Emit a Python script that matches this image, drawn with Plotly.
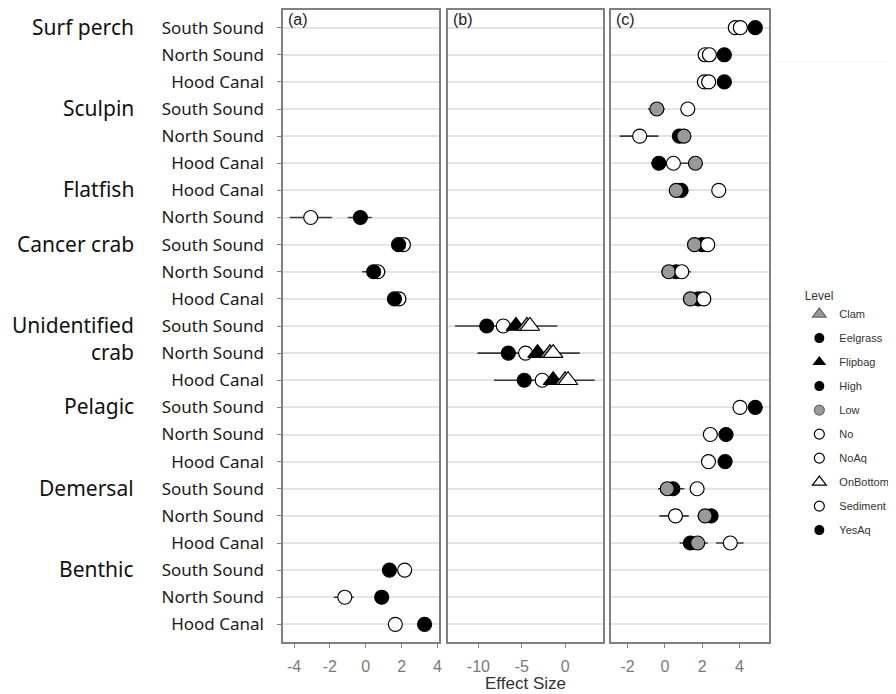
import plotly.graph_objects as go

# ---------------- data ----------------
GROUPS = ["Surf perch", "Sculpin", "Flatfish", "Cancer crab", "Unidentified", "crab",
          "Pelagic", "Demersal", "Benthic"]
GROUP_ROWS = [0, 3, 6, 8, 11, 12, 14, 17, 20]
ROW_LABELS = ["South Sound", "North Sound", "Hood Canal",
              "South Sound", "North Sound", "Hood Canal",
              "Hood Canal", "North Sound",
              "South Sound", "North Sound", "Hood Canal",
              "South Sound", "North Sound", "Hood Canal",
              "South Sound", "North Sound", "Hood Canal",
              "South Sound", "North Sound", "Hood Canal",
              "South Sound", "North Sound", "Hood Canal"]
ROWS = list(range(len(ROW_LABELS)))

# panel (a): habitat
A_ROWS = [7, 8, 9, 10, 20, 21, 22]
A_SEDIMENT = [-3.07, 2.10, 0.67, 1.85, 2.17, -1.17, 1.65]
A_EELGRASS = [-0.30, 1.83, 0.44, 1.60, 1.32, 0.89, 3.28]
A_WH_ROWS = [7, 7, 9, 21, 22]
A_WH_LO = [-4.24, -1.00, -0.20, -1.78, 1.30]
A_WH_HI = [-1.89, 0.33, 1.10, -0.67, 1.70]

# panel (b): aquaculture / gear
B_ROWS = [11, 12, 13]
B_YESAQ = [-9.04, -6.55, -4.71]
B_NOAQ = [-7.13, -4.56, -2.64]
B_FLIPBAG = [-5.67, -3.18, -1.38]
B_CLAM = [-4.40, -1.75, 0.00]
B_ONBOTTOM = [-4.06, -1.38, 0.34]
B_WH_ROWS = [11, 12, 13]
B_WH_LO = [-12.7, -10.1, -8.2]
B_WH_HI = [-0.89, 1.69, 3.41]

# panel (c): density
C_HIGH_ROWS = [0, 1, 2, 4, 5, 6, 8, 9, 10, 14, 15, 16, 17, 18, 19]
C_HIGH = [4.85, 3.19, 3.19, 0.78, -0.32, 0.87, 2.00, 0.60, 1.80, 4.85, 3.28, 3.23, 0.43, 2.48, 1.37]
C_LOW_ROWS = [3, 4, 5, 6, 8, 9, 10, 17, 18, 19]
C_LOW = [-0.43, 1.02, 1.64, 0.61, 1.59, 0.21, 1.37, 0.13, 2.16, 1.76]
C_NO_ROWS = [0, 1, 2, 3, 4, 5, 6, 8, 9, 10, 14, 15, 16, 17, 18, 19]
C_NO = [4.05, 2.39, 2.35, 1.23, -1.35, 0.46, 2.89, 2.30, 0.91, 2.09, 4.03, 2.44, 2.34, 1.73, 0.57, 3.51]
C_NO2_ROWS = [0, 1, 2]
C_NO2 = [3.78, 2.16, 2.12]
C_WH_ROWS = [0, 3, 3, 4, 5, 9, 17, 18, 18, 19, 19]
C_WH_LO = [3.40, -0.90, 0.95, -2.42, -0.75, -0.20, -0.37, -0.29, 1.76, 0.79, 2.75]
C_WH_HI = [4.20, 0.00, 1.40, -0.34, 1.30, 1.39, 1.05, 1.28, 2.60, 2.30, 4.22]

LEGEND_LEVELS = ["Clam", "Eelgrass", "Flipbag", "High", "Low", "No", "NoAq", "OnBottom", "Sediment", "YesAq"]
LEGEND_SYMBOLS = ["triangle-up", "circle", "triangle-up", "circle", "circle", "circle-open", "circle-open",
                  "triangle-up", "circle-open", "circle"]
LEGEND_FILLS = ["#999999", "black", "black", "black", "#999999", "white", "white", "white", "white", "black"]

# ---------------- styling ----------------
W, H = 896, 694
OFF = 8  # page body margin offset


def fx(px):
    return (px - OFF) / W


def fy(py):
    return 1 - (py - OFF) / H


GRAY = "#999999"
LINE = "#808080"
DOM_Y = [fy(642), fy(10)]
YR = [22.65, -0.65]

fig = go.Figure()


def whiskers(rows, lo, hi, xa, ya):
    xs, ys = [], []
    for r, l, h in zip(rows, lo, hi):
        xs += [l, h, None]
        ys += [r, r, None]
    fig.add_trace(go.Scatter(x=xs, y=ys, mode="lines", xaxis=xa, yaxis=ya,
                             line=dict(color="#3a3a3a", width=1.6), showlegend=False, hoverinfo="skip"))


def pts(xv, rows, fill, xa, ya, symbol="circle", size=14):
    fig.add_trace(go.Scatter(x=xv, y=rows, mode="markers", xaxis=xa, yaxis=ya, showlegend=False,
                             marker=dict(symbol=symbol, size=size, color=fill,
                                         line=dict(color="black", width=1.2))))


# panel a
whiskers(A_WH_ROWS, A_WH_LO, A_WH_HI, "x", "y")
pts(A_SEDIMENT, A_ROWS, "white", "x", "y")
pts(A_EELGRASS, A_ROWS, "black", "x", "y")
# panel b
whiskers(B_WH_ROWS, B_WH_LO, B_WH_HI, "x2", "y2")
pts(B_YESAQ, B_ROWS, "black", "x2", "y2")
pts(B_NOAQ, B_ROWS, "white", "x2", "y2")
pts(B_FLIPBAG, B_ROWS, "black", "x2", "y2", "triangle-up", 17)
pts(B_CLAM, B_ROWS, GRAY, "x2", "y2", "triangle-up", 17)
pts(B_ONBOTTOM, B_ROWS, "white", "x2", "y2", "triangle-up", 17)
# panel c
whiskers(C_WH_ROWS, C_WH_LO, C_WH_HI, "x3", "y3")
pts(C_HIGH, C_HIGH_ROWS, "black", "x3", "y3")
pts(C_LOW, C_LOW_ROWS, GRAY, "x3", "y3")
pts(C_NO2, C_NO2_ROWS, "white", "x3", "y3")
pts(C_NO, C_NO_ROWS, "white", "x3", "y3")

# legend entries
for lev, sym, fill in zip(LEGEND_LEVELS, LEGEND_SYMBOLS, LEGEND_FILLS):
    tri = sym.startswith("triangle")
    s = "circle" if sym == "circle-open" else sym
    fig.add_trace(go.Scatter(x=[None], y=[None], mode="markers", name=lev, legendgroup=lev,
                             marker=dict(symbol=s, size=12 if tri else 10, color=fill,
                                         line=dict(color="black" if fill != GRAY else "#666666",
                                                   width=1.2 if fill != "black" else 0))))

axis_common = dict(showline=True, mirror=True, linecolor=LINE, linewidth=1.5, zeroline=False,
                   showgrid=False, ticks="outside", ticklen=4, tickcolor=LINE, tickwidth=1,
                   tickfont=dict(family="Liberation Sans, Arial", size=16, color="#7a7a7a"),
                   ticklabelstandoff=5, fixedrange=True)
yaxis_common = dict(showline=True, mirror=True, linecolor=LINE, linewidth=1.5, zeroline=False,
                    showgrid=True, gridcolor="#e4e4e4", gridwidth=1.6, range=YR,
                    tickvals=ROWS, domain=DOM_Y, fixedrange=True)

fig.update_layout(
    width=W, height=H, margin=dict(l=0, r=0, t=0, b=0),
    plot_bgcolor="white", paper_bgcolor="white",
    xaxis=dict(axis_common, domain=[fx(284), fx(440)], range=[-4.61, 4.06],
               tickvals=[-4, -2, 0, 2, 4], ticktext=["-4", "-2", "0", "2", "4"], anchor="y"),
    xaxis2=dict(axis_common, domain=[fx(449), fx(605)], range=[-13.56, 4.37],
                tickvals=[-10, -5, 0], ticktext=["-10", "-5", "0"], anchor="y2"),
    xaxis3=dict(axis_common, domain=[fx(613), fx(772)], range=[-2.89, 5.61],
                tickvals=[-2, 0, 2, 4], ticktext=["-2", "0", "2", "4"], anchor="y3"),
    yaxis=dict(yaxis_common, anchor="x", ticktext=ROW_LABELS, ticks="outside", ticklen=4,
               tickcolor=LINE, ticklabelstandoff=10,
               tickfont=dict(family="Noto Sans", size=17, color="#1a1a1a")),
    yaxis2=dict(yaxis_common, anchor="x2", showticklabels=False, ticks=""),
    yaxis3=dict(yaxis_common, anchor="x3", showticklabels=False, ticks=""),
    legend=dict(x=fx(802), y=fy(284), xanchor="left", yanchor="top",
                title=dict(text="\u00a0Level", font=dict(family="Liberation Sans, Arial", size=12, color="#333333")),
                font=dict(family="Liberation Sans, Arial", size=11, color="#333333"),
                traceorder="grouped", tracegroupgap=5, bgcolor="rgba(0,0,0,0)"),
    showlegend=True,
)

annotations = []
for g, r in zip(GROUPS, GROUP_ROWS):
    annotations.append(dict(text=g, x=fx(136), xref="paper", xanchor="right", y=r, yref="y",
                            yanchor="middle", showarrow=False, yshift=1,
                            font=dict(family="Noto Sans", size=21, color="#111111")))
for lab, xr in zip(["(a)", "(b)", "(c)"], ["x domain", "x2 domain", "x3 domain"]):
    annotations.append(dict(text=lab, x=0.02, xref=xr, xanchor="left", y=fy(9), yref="paper",
                            yanchor="top", showarrow=False,
                            font=dict(family="Liberation Sans, Arial", size=16, color="#222222")))
annotations.append(dict(text="Effect Size", x=fx(527), xref="paper", xanchor="center",
                        y=fy(683), yref="paper", yanchor="middle", showarrow=False,
                        font=dict(family="Liberation Sans, Arial", size=17, color="#333333")))
fig.update_layout(annotations=annotations)

fig.add_shape(type="line", xref="paper", yref="paper", x0=fx(776), x1=1, y0=fy(62), y1=fy(62),
              line=dict(color="#f0f0f0", width=1))

fig.write_html("out.html")
